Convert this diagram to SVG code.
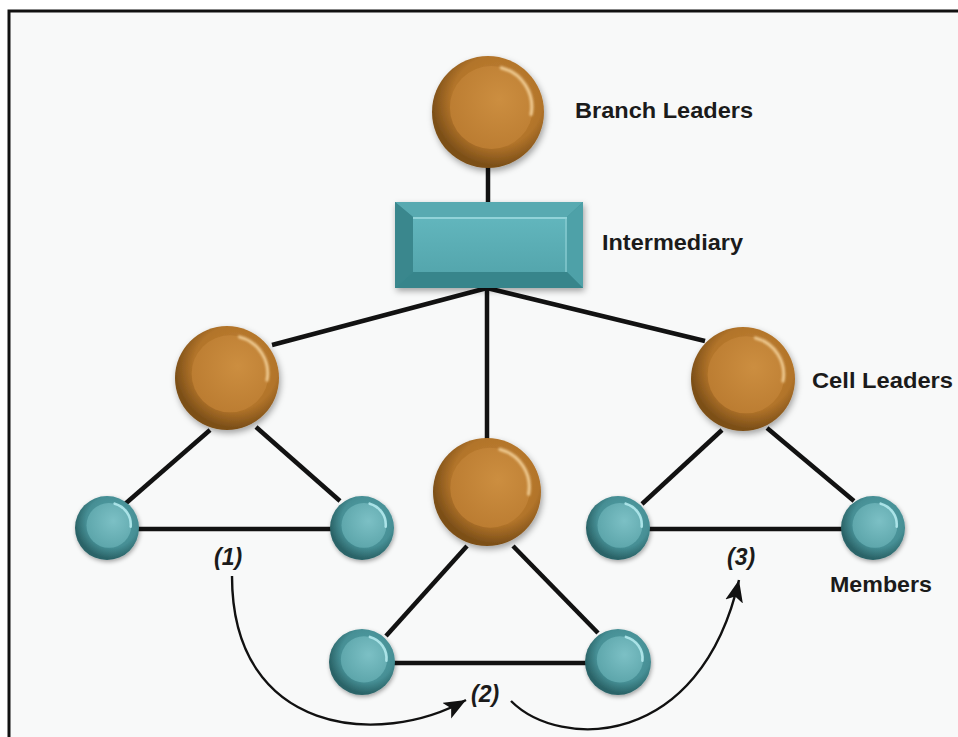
<svg xmlns="http://www.w3.org/2000/svg" xmlns:xlink="http://www.w3.org/1999/xlink" width="958" height="737" viewBox="0 0 958 737">
<style>
.lbl{font-family:"Liberation Sans",Arial,sans-serif;font-weight:bold;font-size:21.5px;fill:#1b1b1b}
.num{font-family:"Liberation Sans",Arial,sans-serif;font-weight:bold;font-style:italic;font-size:23px;fill:#1b1b1b}
.con{stroke:#121212;stroke-width:4.5;fill:none;stroke-linecap:butt}
.flow{stroke:#111;stroke-width:2.4;fill:none}
</style>
<defs>
<filter id="sh" x="-30%" y="-30%" width="170%" height="170%">
<feDropShadow dx="1.5" dy="3" stdDeviation="3" flood-color="#000" flood-opacity="0.35"/>
</filter>
<filter id="soft" x="-20%" y="-20%" width="140%" height="140%"><feGaussianBlur stdDeviation="0.8"/></filter>
<radialGradient id="oOuter" cx="58%" cy="40%" r="58%">
<stop offset="0" stop-color="#c68738"/><stop offset="0.7" stop-color="#b2742a"/><stop offset="1" stop-color="#7c4f18"/>
</radialGradient>
<radialGradient id="oInner" cx="60%" cy="40%" r="65%">
<stop offset="0" stop-color="#cc8e40"/><stop offset="1" stop-color="#bb7c31"/>
</radialGradient>
<radialGradient id="tOuter" cx="58%" cy="40%" r="58%">
<stop offset="0" stop-color="#5aa6ab"/><stop offset="0.7" stop-color="#468f95"/><stop offset="1" stop-color="#2a6367"/>
</radialGradient>
<radialGradient id="tInner" cx="60%" cy="40%" r="65%">
<stop offset="0" stop-color="#7cc0c5"/><stop offset="1" stop-color="#5ca5aa"/>
</radialGradient>
<linearGradient id="face" x1="0" y1="0" x2="0" y2="1">
<stop offset="0" stop-color="#62b6bd"/><stop offset="1" stop-color="#54a6ad"/>
</linearGradient>
<g id="leaderShape">
<circle r="50" fill="url(#oOuter)" filter="url(#sh)"/>
<circle cx="3" cy="-4" r="37" fill="url(#oInner)"/>
<path d="M12,-39.5 A36,36 0 0 1 38.5,2" stroke="#f4d39c" stroke-width="3" fill="none" stroke-linecap="round" opacity="0.85" filter="url(#soft)"/>
</g>
<g id="memberShape">
<circle r="50" fill="url(#tOuter)" filter="url(#sh)"/>
<circle cx="3" cy="-4" r="35" fill="url(#tInner)"/>
<path d="M12,-38 A34,34 0 0 1 37,-2" stroke="#b8eef2" stroke-width="4" fill="none" stroke-linecap="round" opacity="0.85" filter="url(#soft)"/>
</g>
<marker id="ah" markerUnits="userSpaceOnUse" markerWidth="26" markerHeight="20" refX="22" refY="9" orient="auto">
<path d="M0,0 L22,9 L0,18 L5,9 Z" fill="#111"/>
</marker>
</defs>

<rect x="0" y="0" width="958" height="737" fill="#ffffff"/>
<rect x="9" y="11" width="949" height="726" fill="#f8f9f9"/>
<path d="M9,737 L9,11 L958,11" stroke="#111" stroke-width="3" fill="none"/>

<g id="connectors">
<line class="con" x1="488" y1="165" x2="488" y2="203"/>
<line class="con" x1="487" y1="288" x2="272" y2="345"/>
<line class="con" x1="487" y1="288" x2="705" y2="341"/>
<line class="con" x1="487" y1="288" x2="487" y2="440"/>
<line class="con" x1="210" y1="430" x2="125" y2="504"/>
<line class="con" x1="256" y1="427" x2="340" y2="501"/>
<line class="con" x1="107" y1="529" x2="362" y2="529"/>
<line class="con" x1="467" y1="546" x2="386" y2="636"/>
<line class="con" x1="513" y1="546" x2="598" y2="633"/>
<line class="con" x1="362" y1="663" x2="618" y2="663"/>
<line class="con" x1="722" y1="430" x2="642" y2="504"/>
<line class="con" x1="767" y1="428" x2="854" y2="501"/>
<line class="con" x1="618" y1="529" x2="873" y2="529"/>
<path class="flow" d="M232,576 C232,735 380,748 466,700" marker-end="url(#ah)"/>
<path class="flow" d="M511,701 C560,750 700,750 739,580" marker-end="url(#ah)"/>
</g>

<g id="branch-leader">
<use href="#leaderShape" transform="translate(488,112) scale(1.12)"/>
<text class="lbl" x="575" y="118" textLength="178" lengthAdjust="spacingAndGlyphs">Branch Leaders</text>
</g>

<g id="intermediary">
<g filter="url(#sh)">
<rect x="395" y="202" width="188" height="86" fill="#3f8f96"/>
</g>
<polygon points="395,202 583,202 567,217 413,217" fill="#58aab1"/>
<polygon points="395,202 413,217 413,272 395,288" fill="#3a878d"/>
<polygon points="583,202 583,288 567,272 567,217" fill="#4ea1a8"/>
<polygon points="395,288 413,272 567,272 583,288" fill="#37858b"/>
<rect x="413" y="217" width="154" height="55" fill="url(#face)"/>
<line x1="413" y1="218" x2="567" y2="218" stroke="#a2dde2" stroke-width="1.5"/>
<line x1="566" y1="218" x2="566" y2="272" stroke="#8fd0d6" stroke-width="1.2"/>
<text class="lbl" x="602" y="250" textLength="141" lengthAdjust="spacingAndGlyphs">Intermediary</text>
</g>

<g id="cell-leader-left">
<use href="#leaderShape" transform="translate(227,378) scale(1.04)"/>
</g>
<g id="cell-leader-center">
<use href="#leaderShape" transform="translate(487,492) scale(1.08)"/>
</g>
<g id="cell-leader-right">
<use href="#leaderShape" transform="translate(743,379) scale(1.04)"/>
<text class="lbl" x="812" y="388" textLength="141" lengthAdjust="spacingAndGlyphs">Cell Leaders</text>
</g>

<g id="member-l1"><use href="#memberShape" transform="translate(107,528) scale(0.64)"/></g>
<g id="member-l2"><use href="#memberShape" transform="translate(362,528) scale(0.64)"/></g>
<g id="member-c1"><use href="#memberShape" transform="translate(362,662) scale(0.66)"/></g>
<g id="member-c2"><use href="#memberShape" transform="translate(618,662) scale(0.66)"/></g>
<g id="member-r1"><use href="#memberShape" transform="translate(618,528) scale(0.64)"/></g>
<g id="member-r2">
<use href="#memberShape" transform="translate(873,528) scale(0.64)"/>
<text class="lbl" x="830" y="592" textLength="102" lengthAdjust="spacingAndGlyphs">Members</text>
</g>

<g id="step-labels">
<text class="num" x="214" y="565">(1)</text>
<text class="num" x="471" y="702">(2)</text>
<text class="num" x="727" y="565">(3)</text>
</g>
</svg>
